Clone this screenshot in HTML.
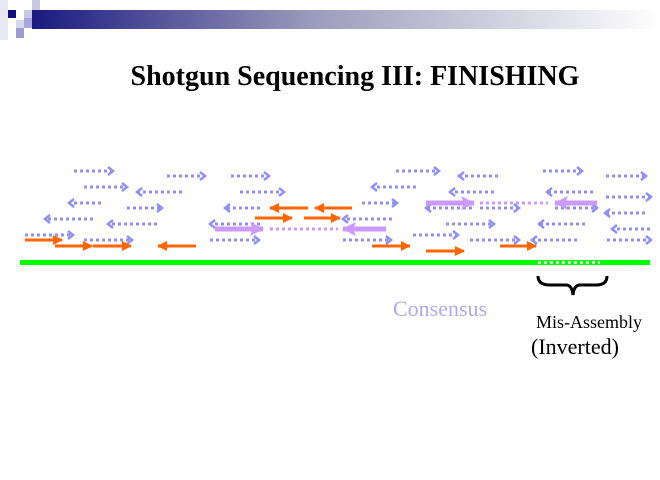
<!DOCTYPE html>
<html><head><meta charset="utf-8"><style>
body{margin:0;width:660px;height:480px;background:#fff;overflow:hidden;position:relative;font-family:"Liberation Serif",serif}
</style></head><body>
<svg width="660" height="480" style="position:absolute;left:0;top:0">
<defs>
<linearGradient id="g" x1="0" x2="1"><stop offset="0" stop-color="#1a1a80"/><stop offset="0.45" stop-color="#9c9cbc"/><stop offset="1" stop-color="#ffffff"/></linearGradient>
<marker id="b" markerWidth="8" markerHeight="10" refX="5" refY="5" orient="auto" markerUnits="userSpaceOnUse"><path d="M1,1 L6,5 L1,9" fill="none" stroke="#9090f0" stroke-width="2.5"/></marker>
<marker id="o" markerWidth="10" markerHeight="10" refX="9" refY="5" orient="auto" markerUnits="userSpaceOnUse"><path d="M0,0 L10,5 L0,10 Z" fill="#ff6600"/></marker>
<marker id="p" markerWidth="14" markerHeight="14" refX="13" refY="7" orient="auto" markerUnits="userSpaceOnUse"><path d="M0,0 L14,7 L0,14 L3,7 Z" fill="#cc99ff"/></marker>
</defs>
<rect x="32" y="10" width="628" height="19" fill="url(#g)"/>
<rect x="0" y="0" width="8" height="40" fill="#e8e8f4"/>
<rect x="8" y="10" width="8" height="8" fill="#101080"/>
<rect x="32" y="0" width="8" height="10" fill="#c8c8e4"/>
<rect x="24" y="10" width="8" height="8" fill="#c8c8e4"/>
<rect x="24" y="18" width="8" height="10" fill="#a8a8d8"/>
<rect x="16" y="28" width="8" height="10" fill="#9c9cd0"/>
<rect x="16" y="20" width="8" height="8" fill="#d8d8ec"/>
<text x="355" y="85" text-anchor="middle" font-family="Liberation Serif,serif" font-weight="bold" font-size="28">Shotgun Sequencing III: FINISHING</text>
<g stroke="#9090f0" stroke-width="3" stroke-dasharray="3,3" fill="none">
<path d="M74,171H112" marker-end="url(#b)"/><path d="M167,176H204" marker-end="url(#b)"/><path d="M231,176H268" marker-end="url(#b)"/>
<path d="M84,187H126" marker-end="url(#b)"/><path d="M182,192H138" marker-end="url(#b)"/><path d="M240,192H283" marker-end="url(#b)"/>
<path d="M101,203H70" marker-end="url(#b)"/><path d="M127,208H161" marker-end="url(#b)"/><path d="M260,208H226" marker-end="url(#b)"/>
<path d="M93,219H46" marker-end="url(#b)"/><path d="M157,224H109" marker-end="url(#b)"/><path d="M260,224H211" marker-end="url(#b)"/>
<path d="M25,235H72" marker-end="url(#b)"/><path d="M84,240H131" marker-end="url(#b)"/><path d="M210,240H258" marker-end="url(#b)"/>
<path d="M396,171H438" marker-end="url(#b)"/><path d="M498,176H460" marker-end="url(#b)"/><path d="M543,171H581" marker-end="url(#b)"/><path d="M606,176H645" marker-end="url(#b)"/>
<path d="M416,187H373" marker-end="url(#b)"/><path d="M494,192H451" marker-end="url(#b)"/><path d="M593,192H548" marker-end="url(#b)"/><path d="M606,197H650" marker-end="url(#b)"/>
<path d="M362,203H396" marker-end="url(#b)"/><path d="M472,208H427" marker-end="url(#b)"/><path d="M480,208H518" marker-end="url(#b)"/><path d="M555,208H596" marker-end="url(#b)"/><path d="M645,213H606" marker-end="url(#b)"/>
<path d="M392,219H344" marker-end="url(#b)"/><path d="M446,224H493" marker-end="url(#b)"/><path d="M585,224H540" marker-end="url(#b)"/><path d="M650,229H613" marker-end="url(#b)"/>
<path d="M413,235H457" marker-end="url(#b)"/><path d="M343,240H390" marker-end="url(#b)"/><path d="M470,240H518" marker-end="url(#b)"/><path d="M577,240H533" marker-end="url(#b)"/><path d="M607,240H650" marker-end="url(#b)"/>
</g>
<g stroke="#ff6600" stroke-width="3" fill="none">
<path d="M25,240H62" marker-end="url(#o)"/><path d="M55,246H92" marker-end="url(#o)"/><path d="M93,246H131" marker-end="url(#o)"/><path d="M196,246H158" marker-end="url(#o)"/>
<path d="M255,218H292" marker-end="url(#o)"/><path d="M308,208H270" marker-end="url(#o)"/><path d="M304,218H340" marker-end="url(#o)"/><path d="M352,208H315" marker-end="url(#o)"/>
<path d="M372,246H410" marker-end="url(#o)"/><path d="M426,251H464" marker-end="url(#o)"/><path d="M500,246H536" marker-end="url(#o)"/>
</g>
<g stroke="#cc99ff" fill="none">
<path d="M215,229H263" stroke-width="5" marker-end="url(#p)"/><path d="M386,229H343" stroke-width="5" marker-end="url(#p)"/>
<path d="M270,229H338" stroke-width="3" stroke-dasharray="3,3"/>
<path d="M426,203H474" stroke-width="5" marker-end="url(#p)"/><path d="M597,203H555" stroke-width="5" marker-end="url(#p)"/>
<path d="M480,203H548" stroke-width="3" stroke-dasharray="3,3"/>
</g>
<rect x="20" y="260" width="630" height="5" fill="#00ff00"/>
<path d="M538,262.5H600" stroke="#fff" stroke-width="2.5" stroke-dasharray="3,3"/>
<path d="M538,276 Q538,285 550,285 L566,285 Q572,285 573,295 Q574,285 580,285 L596,285 Q607,285 607,276" fill="none" stroke="#000" stroke-width="3"/>
<text x="393" y="316" font-size="22" fill="#b0a8f0">Consensus</text>
<text x="536" y="328" font-size="18">Mis-Assembly</text>
<text x="531" y="354" font-size="22">(Inverted)</text>
</svg>
</body></html>
